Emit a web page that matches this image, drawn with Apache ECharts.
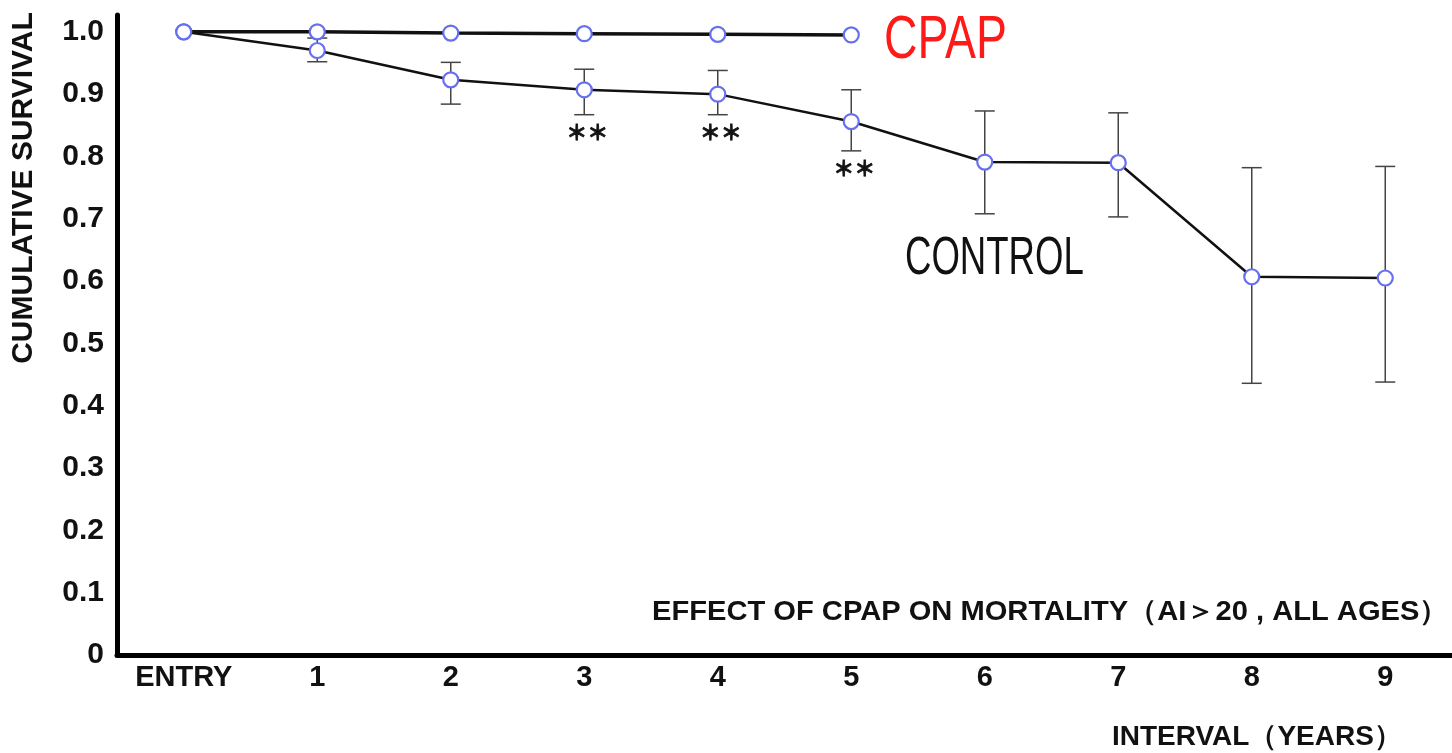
<!DOCTYPE html>
<html>
<head>
<meta charset="utf-8">
<script src="https://cdn.jsdelivr.net/npm/echarts@6/dist/echarts.min.js"></script>
<style>
  html, body { margin: 0; padding: 0; background: #fff; }
  #container { width: 1452px; height: 753px; }
</style>
</head>
<body>
<div id="container"></div>
<script>
var years = ["ENTRY", "1", "2", "3", "4", "5", "6", "7", "8", "9"];
var cpap = [1.0, 1.0, 0.998, 0.997, 0.996, 0.995];
var control = [1.0, 0.970, 0.923, 0.907, 0.900, 0.856, 0.791, 0.790, 0.607, 0.605];
var controlLow = [null, 0.952, 0.884, 0.867, 0.867, 0.809, 0.708, 0.703, 0.436, 0.438];
var controlHigh = [null, 0.990, 0.951, 0.940, 0.938, 0.907, 0.873, 0.870, 0.782, 0.784];
var stars = ["", "", "", "＊＊", "＊＊", "＊＊", "", "", "", ""];

var FONT = "Liberation Sans, Arial, sans-serif";
var dom = document.getElementById("container");
var myChart = echarts.init(dom);

var errData = [];
controlLow.forEach((lo, i) => {
  if (lo !== null) errData.push([i, lo, controlHigh[i]]);
});

function renderErrorBar(params, api) {
  var i = api.value(0);
  var lo = api.coord([i, api.value(1)]);
  var hi = api.coord([i, api.value(2)]);
  var half = 10;
  var style = { stroke: "#444", lineWidth: 1.5 };
  var children = [
    { type: "line", shape: { x1: lo[0], y1: lo[1], x2: hi[0], y2: hi[1] }, style: style },
    { type: "line", shape: { x1: lo[0] - half, y1: lo[1], x2: lo[0] + half, y2: lo[1] }, style: style },
    { type: "line", shape: { x1: hi[0] - half, y1: hi[1], x2: hi[0] + half, y2: hi[1] }, style: style },
  ];
  if (stars[i]) {
    // the significance marks sit just under the lower whisker
    children.push({
      type: "text",
      style: {
        text: stars[i],
        x: lo[0] + 3,
        y: lo[1] + 17,
        align: "center",
        verticalAlign: "middle",
        fontSize: 21,
        fontWeight: "bold",
        fontFamily: "Noto Sans CJK JP",
        fill: "#111",
        stroke: "#111",
        lineWidth: 0.8,
      },
    });
  }
  return { type: "group", children: children };
}

var marker = {
  color: "#fff",
  borderColor: "#6670ee",
  borderWidth: 2.2,
};

var option = {
  backgroundColor: "#fff",
  animation: false,
  grid: { left: 117, right: -2, top: 15, bottom: 98 },
  xAxis: {
    type: "category",
    data: years,
    boundaryGap: true,
    axisLine: { lineStyle: { color: "#000", width: 5 } },
    axisTick: { show: false },
    axisLabel: { color: "#111", fontSize: 29, fontWeight: "bold", fontFamily: FONT, margin: 8 },
  },
  yAxis: {
    type: "value",
    min: 0,
    max: 1.027,
    interval: 0.1,
    splitLine: { show: false },
    axisLine: { show: true, lineStyle: { color: "#000", width: 5 } },
    axisTick: { show: false },
    axisLabel: {
      color: "#111",
      fontSize: 30,
      fontWeight: "bold",
      fontFamily: FONT,
      margin: 13,
      showMaxLabel: false,
      formatter: (v) => (v === 0 ? "0" : v.toFixed(1)),
    },
  },
  graphic: [
    {
      type: "text",
      x: 24,
      y: 188,
      rotation: Math.PI / 2,
      style: {
        text: "CUMULATIVE SURVIVAL",
        font: "bold 30px " + FONT,
        fill: "#111",
        align: "center",
        verticalAlign: "middle",
      },
    },
    {
      type: "text",
      x: 884,
      y: 41,
      scaleX: 0.76,
      style: { text: "CPAP", font: "61px " + FONT, fill: "#ff1a1a", align: "left", verticalAlign: "middle" },
    },
    {
      type: "text",
      x: 905,
      y: 259,
      scaleX: 0.69,
      style: { text: "CONTROL", font: "53px " + FONT, fill: "#111", align: "left", verticalAlign: "middle" },
    },
    {
      type: "text",
      x: 652,
      y: 612,
      scaleX: 1.04,
      style: {
        text: "EFFECT OF CPAP ON MORTALITY（AI＞20 , ALL AGES）",
        font: "bold 28px " + FONT,
        fill: "#111",
        align: "left",
        verticalAlign: "middle",
      },
    },
    {
      type: "text",
      x: 1112,
      y: 737,
      style: {
        text: "INTERVAL（YEARS）",
        font: "bold 28px " + FONT,
        fill: "#111",
        align: "left",
        verticalAlign: "middle",
      },
    },
  ],
  series: [
    {
      name: "error",
      type: "custom",
      renderItem: renderErrorBar,
      data: errData,
      encode: { x: 0, y: [1, 2] },
      z: 1,
    },
    {
      name: "CONTROL",
      type: "line",
      data: control,
      symbol: "circle",
      symbolSize: 15,
      itemStyle: marker,
      lineStyle: { color: "#111", width: 2.5 },
      z: 2,
    },
    {
      name: "CPAP",
      type: "line",
      data: cpap,
      symbol: "circle",
      symbolSize: 15,
      itemStyle: marker,
      lineStyle: { color: "#111", width: 3.5 },
      z: 3,
    },
  ],
};

myChart.setOption(option);
</script>
</body>
</html>
